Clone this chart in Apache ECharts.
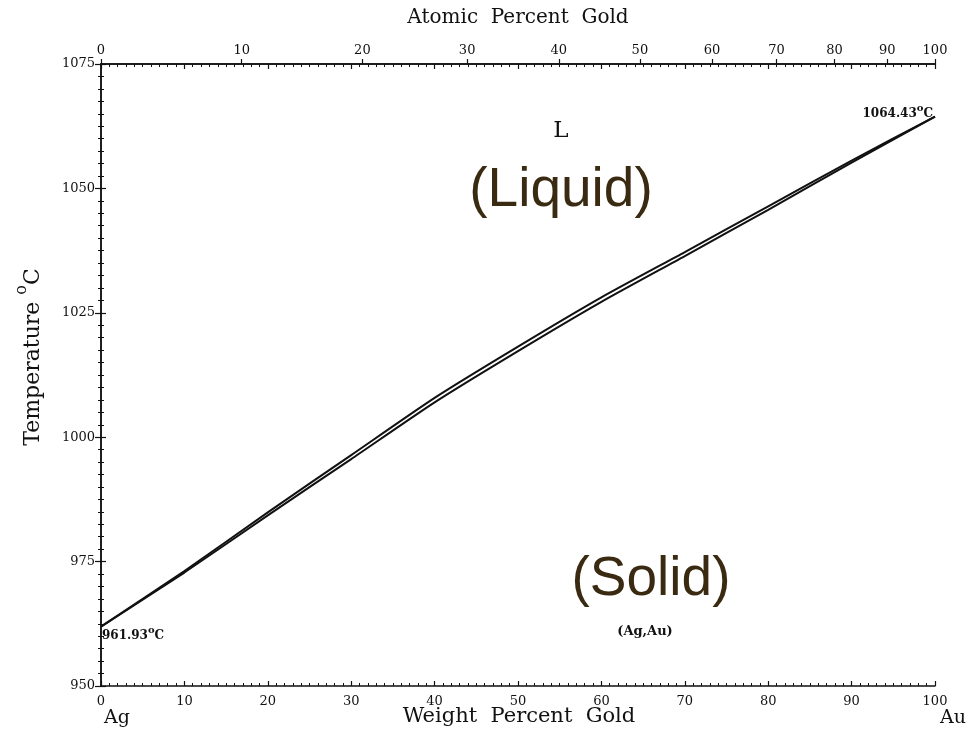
<!DOCTYPE html>
<html>
<head>
<meta charset="utf-8">
<script src="https://cdn.jsdelivr.net/npm/echarts@6/dist/echarts.min.js"></script>
<style>html,body{margin:0;padding:0;background:#fff}#c{width:970px;height:744px}</style>
</head>
<body>
<div id="c"></div>
<script>
// ---- data ----
const weightPct = [0, 10, 20, 30, 40, 50, 60, 70, 80, 90, 100];
const liquidus  = [961.93, 973.1, 984.9, 996.4, 1007.9, 1018.2, 1028.1, 1037.2, 1046.4, 1055.6, 1064.43];
const solidus   = [961.93, 972.8, 984.3, 995.6, 1007.0, 1017.3, 1027.2, 1036.4, 1045.7, 1055.2, 1064.43];
const atomicTicks = [0, 10, 20, 30, 40, 50, 60, 70, 80, 90, 100];
const meltAg = '961.93';
const meltAu = '1064.43';

// atomic masses for the atomic% -> weight% top scale
const M_AU = 196.97, M_AG = 107.87;
const atToWt = a => a * M_AU / (a * M_AU + (100 - a) * M_AG) * 100;
const atomicPos = atomicTicks.map(atToWt);
const atomicLabel = v => {
  let best = 0, d = 1e9;
  atomicPos.forEach((p, i) => { if (Math.abs(p - v) < d) { d = Math.abs(p - v); best = i; } });
  return String(atomicTicks[best]);
};

const SERIF = '"DejaVu Serif", "Liberation Serif", serif';
const SANS = '"Liberation Sans", Arial, sans-serif';
const ink = '#111';
const brown = '#3a2a12';

const chart = echarts.init(document.getElementById('c'), null, {renderer: 'canvas'});
const lineAxis = {lineStyle: {color: ink, width: 1.5}};
const tickLbl = {color: ink, fontFamily: SERIF, fontSize: 13, formatter: v => String(v)};
const supRich = {
  n: {fontFamily: SERIF, fontSize: 12, fontWeight: 'bold', color: ink, lineHeight: 16, verticalAlign: 'bottom'},
  s: {fontFamily: SERIF, fontSize: 10, fontWeight: 'bold', color: ink, lineHeight: 16, verticalAlign: 'top', padding: [0, 0, 6, 0]}
};

chart.setOption({
  animation: false,
  backgroundColor: '#fff',
  grid: {left: 101, right: 35, top: 64, bottom: 58},
  xAxis: [
    { // bottom weight percent
      type: 'value', position: 'bottom', min: 0, max: 100, interval: 10,
      axisLine: lineAxis, splitLine: {show: false},
      axisTick: {show: true, inside: true, length: 5, lineStyle: {color: ink, width: 1.2}},
      minorTick: {show: true, splitNumber: 10, length: 3, lineStyle: {color: ink, width: 1}},
      axisLabel: Object.assign({margin: 9}, tickLbl)
    },
    { // top weight ticks (mirror, inside)
      type: 'value', position: 'top', min: 0, max: 100, interval: 10,
      axisLine: lineAxis, splitLine: {show: false},
      axisTick: {show: true, inside: true, length: 5, lineStyle: {color: ink, width: 1.2}},
      minorTick: {show: true, splitNumber: 10, length: 3, lineStyle: {color: ink, width: 1}},
      axisLabel: {show: false}
    },
    { // top atomic percent
      type: 'value', position: 'top', min: 0, max: 100,
      axisLine: lineAxis, splitLine: {show: false},
      axisTick: {show: true, inside: false, length: 5, customValues: atomicPos, lineStyle: {color: ink, width: 1.2}},
      axisLabel: Object.assign({}, tickLbl, {margin: 7, customValues: atomicPos, formatter: atomicLabel})
    }
  ],
  yAxis: [
    {
      type: 'value', position: 'left', min: 950, max: 1075, interval: 25,
      axisLine: Object.assign({show: true}, lineAxis), splitLine: {show: false},
      axisTick: {show: true, inside: false, length: 6, lineStyle: {color: ink, width: 1.2}},
      minorTick: {show: true, splitNumber: 10, length: 3, lineStyle: {color: ink, width: 1}},
      axisLabel: Object.assign({margin: 6}, tickLbl)
    },
    {
      type: 'value', position: 'right', min: 950, max: 1075, interval: 25,
      axisLine: Object.assign({show: true}, lineAxis), splitLine: {show: false},
      axisTick: {show: true, inside: false, length: 5, lineStyle: {color: ink, width: 1.2}},
      minorTick: {show: true, splitNumber: 10, length: 3, lineStyle: {color: ink, width: 1}},
      axisLabel: {show: false}
    }
  ],
  series: [
    {
      name: 'Liquidus', type: 'line', xAxisIndex: 0, yAxisIndex: 0,
      data: weightPct.map((w, i) => [w, liquidus[i]]),
      symbol: 'none', smooth: 0.2,
      lineStyle: {color: ink, width: 2}
    },
    {
      name: 'Solidus', type: 'line', xAxisIndex: 0, yAxisIndex: 0,
      data: weightPct.map((w, i) => [w, solidus[i]]),
      symbol: 'none', smooth: 0.2,
      lineStyle: {color: ink, width: 2},
      markPoint: {
        symbol: 'circle', symbolSize: 0, silent: true,
        data: [
          {coord: [weightPct[0], solidus[0]],
           label: {show: true, position: [1, -1], align: 'left', verticalAlign: 'top',
                   formatter: '{n|' + meltAg + '}{s|o}{n|C}', rich: supRich}},
          {coord: [weightPct[weightPct.length - 1], solidus[solidus.length - 1]],
           label: {show: true, position: [-2, 3], align: 'right', verticalAlign: 'bottom',
                   formatter: '{n|' + meltAu + '}{s|o}{n|C}', rich: supRich}}
        ]
      }
    }
  ],
  graphic: [
    {type: 'text', x: 518, y: 18, style: {text: 'Atomic  Percent  Gold', font: '20px ' + SERIF, fill: ink, align: 'center', verticalAlign: 'middle'}},
    {type: 'text', x: 519, y: 717, style: {text: 'Weight  Percent  Gold', font: '21px ' + SERIF, fill: ink, align: 'center', verticalAlign: 'middle'}},
    {type: 'text', x: 117, y: 718, style: {text: 'Ag', font: '19px ' + SERIF, fill: ink, align: 'center', verticalAlign: 'middle'}},
    {type: 'text', x: 953, y: 718, style: {text: 'Au', font: '19px ' + SERIF, fill: ink, align: 'center', verticalAlign: 'middle'}},
    {type: 'text', x: 29, y: 357, rotation: Math.PI / 2,
     style: {text: '{t|Temperature }{s|o}{t|C}', align: 'center', verticalAlign: 'middle',
             rich: {t: {font: '22px ' + SERIF, fill: ink, lineHeight: 30, verticalAlign: 'bottom'},
                    s: {font: '16px ' + SERIF, fill: ink, lineHeight: 30, verticalAlign: 'top'}}}},
    {type: 'text', x: 561, y: 131, style: {text: 'L', font: '23px ' + SERIF, fill: ink, align: 'center', verticalAlign: 'middle'}},
    {type: 'text', x: 561, y: 191, style: {text: '(Liquid)', font: '55px ' + SANS, fill: brown, align: 'center', verticalAlign: 'middle'}},
    {type: 'text', x: 651, y: 580, style: {text: '(Solid)', font: '55px ' + SANS, fill: brown, align: 'center', verticalAlign: 'middle'}},
    {type: 'text', x: 645, y: 632, style: {text: '(Ag,Au)', font: 'bold 13px ' + SERIF, fill: ink, align: 'center', verticalAlign: 'middle'}}
  ]
});
</script>
</body>
</html>
